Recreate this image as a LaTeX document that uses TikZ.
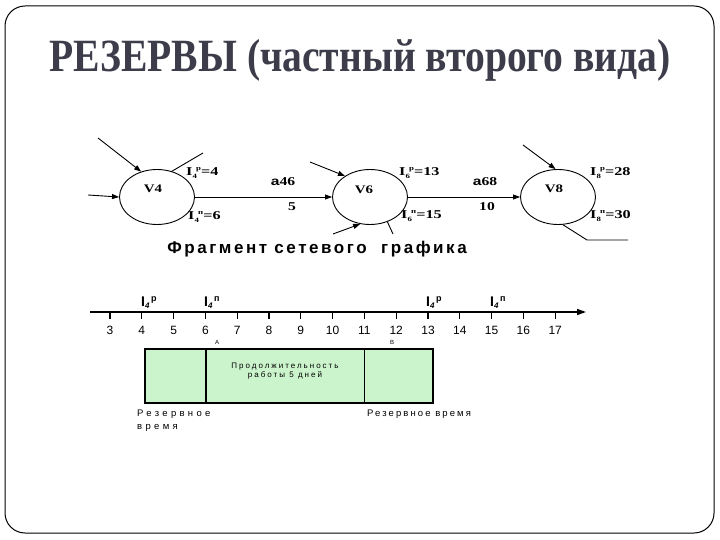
\documentclass[tikz,border=0pt]{standalone}
\usepackage{fontspec}
\setmainfont{Liberation Serif}
\setsansfont{Liberation Sans}
\usetikzlibrary{shapes.geometric,arrows.meta}
% I with subscript (#1) and raised superscript (#2), then rest (#3)
\newcommand\Ilab[3]{\scalebox{1.35}[1]{\textbf{I}\raisebox{-2.5pt}{\fontsize{6.5}{7}\selectfont\bfseries #1}\kern-0.5pt\raisebox{5pt}{\fontsize{6.5}{7}\selectfont\bfseries #2}\textbf{#3}}}
\newcommand\Jlab[2]{\textbf{I}\raisebox{-2.5pt}{\fontsize{8}{8}\selectfont\bfseries\itshape #1}\kern1.5pt\raisebox{5pt}{\fontsize{9}{9}\selectfont\bfseries #2}}
\definecolor{titlecol}{RGB}{60,60,75}
\definecolor{boxgreen}{RGB}{204,244,204}
\begin{document}
\begin{tikzpicture}[x=1pt,y=-1pt,
  ev/.style={draw,ellipse,line width=0.9pt,minimum width=75pt,minimum height=55pt,inner sep=0pt},
  lab/.style={font=\fontsize{12}{13}\selectfont,inner sep=0pt,anchor=west},
  vt/.style={font=\bfseries\fontsize{11.5}{12}\selectfont,inner sep=0pt},
  tip/.style={-{Triangle[length=7pt,width=5pt]}},
  con/.style={line width=0.9pt},
  ax/.style={font=\sffamily\fontsize{12}{13}\selectfont,inner sep=0pt},
  axl/.style={font=\sffamily\bfseries\fontsize{14}{15}\selectfont,inner sep=0pt,anchor=base west},
  small/.style={font=\sffamily\fontsize{8}{9.5}\selectfont\addfontfeature{LetterSpace=25},inner sep=0pt,align=center},
  res/.style={font=\sffamily\fontsize{9.5}{13}\selectfont\addfontfeature{LetterSpace=#1},inner sep=0pt,align=left,anchor=north west}
]
\useasboundingbox (0,0) rectangle (720,540);
\fill[white] (0,0) rectangle (720,540);
\draw[line width=1pt,rounded corners=20pt] (5,6) rectangle (714,533);

% title
\node (title) at (360,60) {\scalebox{0.90}[1.05]{\fontsize{44}{48}\selectfont\bfseries\color{titlecol}РЕЗЕРВЫ (частный второго вида)}};

% events
\node[ev] (v4) at (157,197) {};
\node[ev] (v6) at (370,197) {};
\node[ev] (v8) at (558,197) {};
\node[vt] (t4) at (153,189) {\scalebox{1.3}[1]{V4}};
\node[vt] (t6) at (364,190) {\scalebox{1.3}[1]{V6}};
\node[vt] (t8) at (554,189) {\scalebox{1.3}[1]{V8}};

% free ends
\coordinate (in4a) at (88,195);
\coordinate (in4b) at (98,138);
\coordinate (out4) at (203,153);
\coordinate (in6a) at (310,162);
\coordinate (in6b) at (333,234);
\coordinate (out6) at (393,234);
\coordinate (in8a) at (523,145);
\coordinate (out8a) at (587,240);
\coordinate (out8b) at (628,240);

\draw[con,tip] (in4a) -- (v4.west);
\draw[con,tip] (in4b) -- (v4.122);
\draw[con] (v4.60) -- (out4);
\draw[con,tip] (v4.east) -- (v6.west);
\draw[con,tip] (in6a) -- (v6.140);
\draw[con,tip] (in6b) -- (v6.250);
\draw[con] (v6.305) -- (out6);
\draw[con,tip] (v6.east) -- (v8.west);
\draw[con,tip] (in8a) -- (v8.95);
\draw[con] (v8.280) -- (out8a) -- (out8b);

% labels
\node[lab] (l4p) at (186,173) {\Ilab{4}{р}{=4}};
\node[lab] (l4n) at (188,217) {\Ilab{4}{п}{=6}};
\node[lab] (l6p) at (399,173) {\Ilab{6}{р}{=13}};
\node[lab] (l6n) at (401,216) {\Ilab{6}{п}{=15}};
\node[lab] (l8p) at (590,173) {\Ilab{8}{р}{=28}};
\node[lab] (l8n) at (590,216) {\Ilab{8}{п}{=30}};
\node[font=\fontsize{12}{13}\selectfont\bfseries] (a46) at (283,182) {\scalebox{1.3}[1]{{\sffamily a}46}};
\node[font=\fontsize{12}{13}\selectfont\bfseries] (d46) at (292,207) {\scalebox{1.3}[1]{5}};
\node[font=\fontsize{12}{13}\selectfont\bfseries] (a68) at (485,182) {\scalebox{1.3}[1]{{\sffamily a}68}};
\node[font=\fontsize{12}{13}\selectfont\bfseries] (d68) at (487,207) {\scalebox{1.3}[1]{10}};

\node[font=\sffamily\bfseries\fontsize{17}{18}\selectfont\addfontfeature{LetterSpace=15}] (cap) at (317,249) {Фрагмент сетевого\ \ графика};

% axis
\coordinate (axs) at (90,312);
\coordinate (axe) at (586,312);
\draw[line width=1.5pt,-{Triangle[length=9pt,width=6pt]}] (axs) -- (axe);
\foreach \n in {3,...,17}{
  \draw[line width=1.2pt] ({110+(\n-3)*31.8},312) -- ({110+(\n-3)*31.8},319);
  \node[ax] (n\n) at ({110+(\n-3)*31.8},330) {\n};
}
\node[axl] (p1) at (141,306) {\Jlab{4}{р}};
\node[axl] (q1) at (204,306) {\Jlab{4}{п}};
\node[axl] (p2) at (426,306) {\Jlab{4}{р}};
\node[axl] (q2) at (490,306) {\Jlab{4}{п}};

% bar
\node[font=\sffamily\fontsize{6}{7}\selectfont,inner sep=0pt] (ma) at (217,342) {A};
\node[font=\sffamily\fontsize{6}{7}\selectfont,inner sep=0pt] (mb) at (392,342) {B};
\draw[line width=2pt,fill=boxgreen] (145,349) rectangle (433,403);
\draw[line width=2.2pt] (206,349) -- (206,403);
\draw[line width=0.8pt] (364,349) -- (364,403);
\node[small] (dur) at (285,371) {Продолжительность\\работы 5 дней};
\node[res=35] (r1) at (137,410) {Резервное\\время};
\node[res=22] (r2) at (367,410) {Резервное время};
\end{tikzpicture}
\end{document}
